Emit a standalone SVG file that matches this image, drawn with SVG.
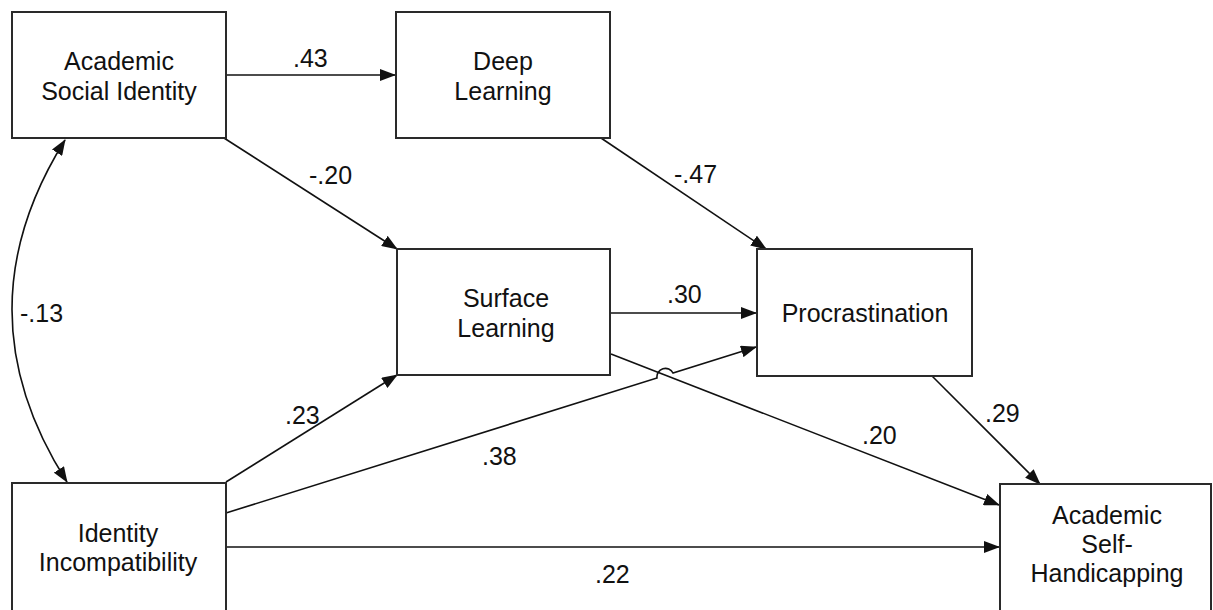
<svg xmlns="http://www.w3.org/2000/svg" width="1213" height="610" viewBox="0 0 1213 610">
<defs>
<style>
.box{fill:#fff;stroke:#2a2a2a;stroke-width:2}
.t{font-family:"Liberation Sans",Arial,sans-serif;font-size:25px;fill:#111;text-anchor:middle}
.lbl{font-family:"Liberation Sans",Arial,sans-serif;font-size:25px;fill:#111}
.c{fill:none;stroke:#111;stroke-width:1.6}
</style>
<marker id="ah" viewBox="0 0 16 12" refX="15" refY="6" markerWidth="16" markerHeight="12" markerUnits="userSpaceOnUse" orient="auto-start-reverse">
<path d="M0,0 L16,6 L0,12 Z" fill="#111"/>
</marker>
</defs>
<rect width="1213" height="610" fill="#fff"/>
<g id="connectors">
<path class="c" d="M226,75 L395,75" marker-end="url(#ah)"/>
<path class="c" d="M224,138 L397,249" marker-end="url(#ah)"/>
<path class="c" d="M601,138 L766,249" marker-end="url(#ah)"/>
<path class="c" d="M610,313 L756,313" marker-end="url(#ah)"/>
<path class="c" d="M932,376 L1040,484" marker-end="url(#ah)"/>
<path class="c" d="M611,354 L999,505" marker-end="url(#ah)"/>
<path class="c" d="M226,482 L397,375" marker-end="url(#ah)"/>
<path class="c" d="M226,513 L657,378 A8.5,8.5 0 0 1 673,373 L756,347" marker-end="url(#ah)"/>
<path class="c" d="M226,547 L999,547" marker-end="url(#ah)"/>
<path class="c" d="M65,140 Q-42,311 67,482" marker-start="url(#ah)" marker-end="url(#ah)"/>
<text class="lbl" x="293" y="67">.43</text>
<text class="lbl" x="309" y="184">-.20</text>
<text class="lbl" x="674" y="183">-.47</text>
<text class="lbl" x="667" y="303">.30</text>
<text class="lbl" x="20" y="322">-.13</text>
<text class="lbl" x="285" y="424">.23</text>
<text class="lbl" x="482" y="465">.38</text>
<text class="lbl" x="862" y="444">.20</text>
<text class="lbl" x="985" y="422">.29</text>
<text class="lbl" x="595" y="583">.22</text>
</g>
<g id="academic-social-identity">
<rect class="box" x="12" y="12" width="214" height="126"/>
<text class="t" x="119" y="70">Academic</text>
<text class="t" x="119" y="100">Social Identity</text>
</g>
<g id="deep-learning">
<rect class="box" x="396" y="12" width="214" height="126"/>
<text class="t" x="503" y="70">Deep</text>
<text class="t" x="503" y="100">Learning</text>
</g>
<g id="surface-learning">
<rect class="box" x="397" y="249" width="213" height="126"/>
<text class="t" x="506" y="307">Surface</text>
<text class="t" x="506" y="337">Learning</text>
</g>
<g id="procrastination">
<rect class="box" x="757" y="249" width="215" height="127"/>
<text class="t" x="865" y="322">Procrastination</text>
</g>
<g id="identity-incompatibility">
<rect class="box" x="12" y="483" width="214" height="130"/>
<text class="t" x="118" y="542">Identity</text>
<text class="t" x="118" y="571">Incompatibility</text>
</g>
<g id="academic-self-handicapping">
<rect class="box" x="1000" y="484" width="211" height="130"/>
<text class="t" x="1107" y="524">Academic</text>
<text class="t" x="1107" y="553">Self-</text>
<text class="t" x="1107" y="582">Handicapping</text>
</g>
</svg>
